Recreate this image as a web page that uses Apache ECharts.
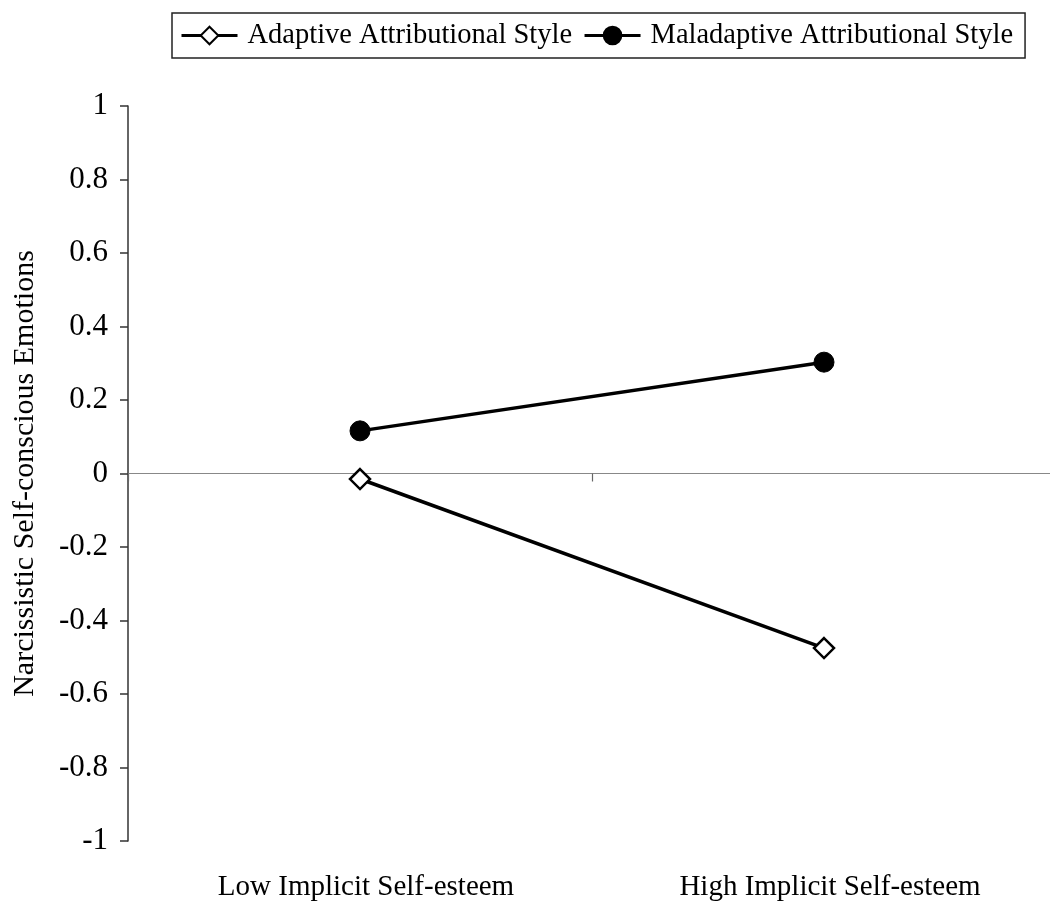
<!DOCTYPE html>
<html>
<head>
<meta charset="utf-8">
<script src="https://cdn.jsdelivr.net/npm/echarts@6/dist/echarts.min.js"></script>
<style>html,body{margin:0;padding:0;background:#fff;}#c{width:1050px;height:906px;}</style>
</head>
<body>
<div id="c"></div>
<script>
var categories = ['Low Implicit Self-esteem', 'High Implicit Self-esteem'];
var adaptive = [-0.015, -0.475];
var maladaptive = [0.116, 0.303];
var seriesNames = ['Adaptive Attributional Style', 'Maladaptive Attributional Style'];
var yAxisName = 'Narcissistic Self-conscious Emotions';

var font = 'Liberation Serif';
var chart = echarts.init(document.getElementById('c'));
chart.setOption({
  backgroundColor: '#fff',
  animation: false,
  legend: {
    left: 172, top: 13,
    padding: [8, 12, 8, 8],
    borderColor: '#222', borderWidth: 1.5,
    itemWidth: 56, itemHeight: 22, itemGap: 11,
    lineStyle: { width: 3, color: '#000' },
    textStyle: { fontFamily: font, fontSize: 28.5, color: '#000', padding: [0, 0, 0, 5] },
    data: seriesNames
  },
  grid: { left: 128, right: -6, top: 106, bottom: 65, outerBoundsMode: 'none', containLabel: false },
  xAxis: [{
    type: 'category', data: categories, boundaryGap: true,
    axisLine: { onZero: true, lineStyle: { color: '#888', width: 1.2 } },
    axisTick: { show: true, length: 8, lineStyle: { color: '#666', width: 1.2 } },
    axisLabel: { show: false },
    splitLine: { show: false }
  }, {
    type: 'category', data: categories, position: 'bottom', boundaryGap: true,
    axisLine: { show: false }, axisTick: { show: false },
    axisLabel: { margin: 32, fontFamily: font, fontSize: 29, color: '#000', padding: [0, 0, 0, 12] },
    splitLine: { show: false }
  }],
  yAxis: {
    type: 'value', min: -1, max: 1, interval: 0.2,
    name: yAxisName, nameLocation: 'middle', nameGap: 88, nameRotate: 90,
    nameTextStyle: { fontFamily: font, fontSize: 30, color: '#000' },
    axisLine: { show: true, lineStyle: { color: '#333', width: 1.5 } },
    axisTick: { show: true, length: 8, lineStyle: { color: '#333', width: 1.5 } },
    axisLabel: { margin: 20, fontFamily: font, fontSize: 31, color: '#000',
      formatter: function (v) { return String(Math.round(v * 10) / 10); } },
    splitLine: { show: false }
  },
  series: [{
    name: seriesNames[0], type: 'line', data: adaptive, xAxisIndex: 0,
    symbol: 'diamond', symbolSize: 20,
    lineStyle: { color: '#000', width: 3.5 },
    itemStyle: { color: '#fff', borderColor: '#000', borderWidth: 2.5 }
  }, {
    name: seriesNames[1], type: 'line', data: maladaptive, xAxisIndex: 0,
    symbol: 'circle', symbolSize: 20,
    lineStyle: { color: '#000', width: 3.5 },
    itemStyle: { color: '#000', borderColor: '#000', borderWidth: 1 }
  }]
});
</script>
</body>
</html>
